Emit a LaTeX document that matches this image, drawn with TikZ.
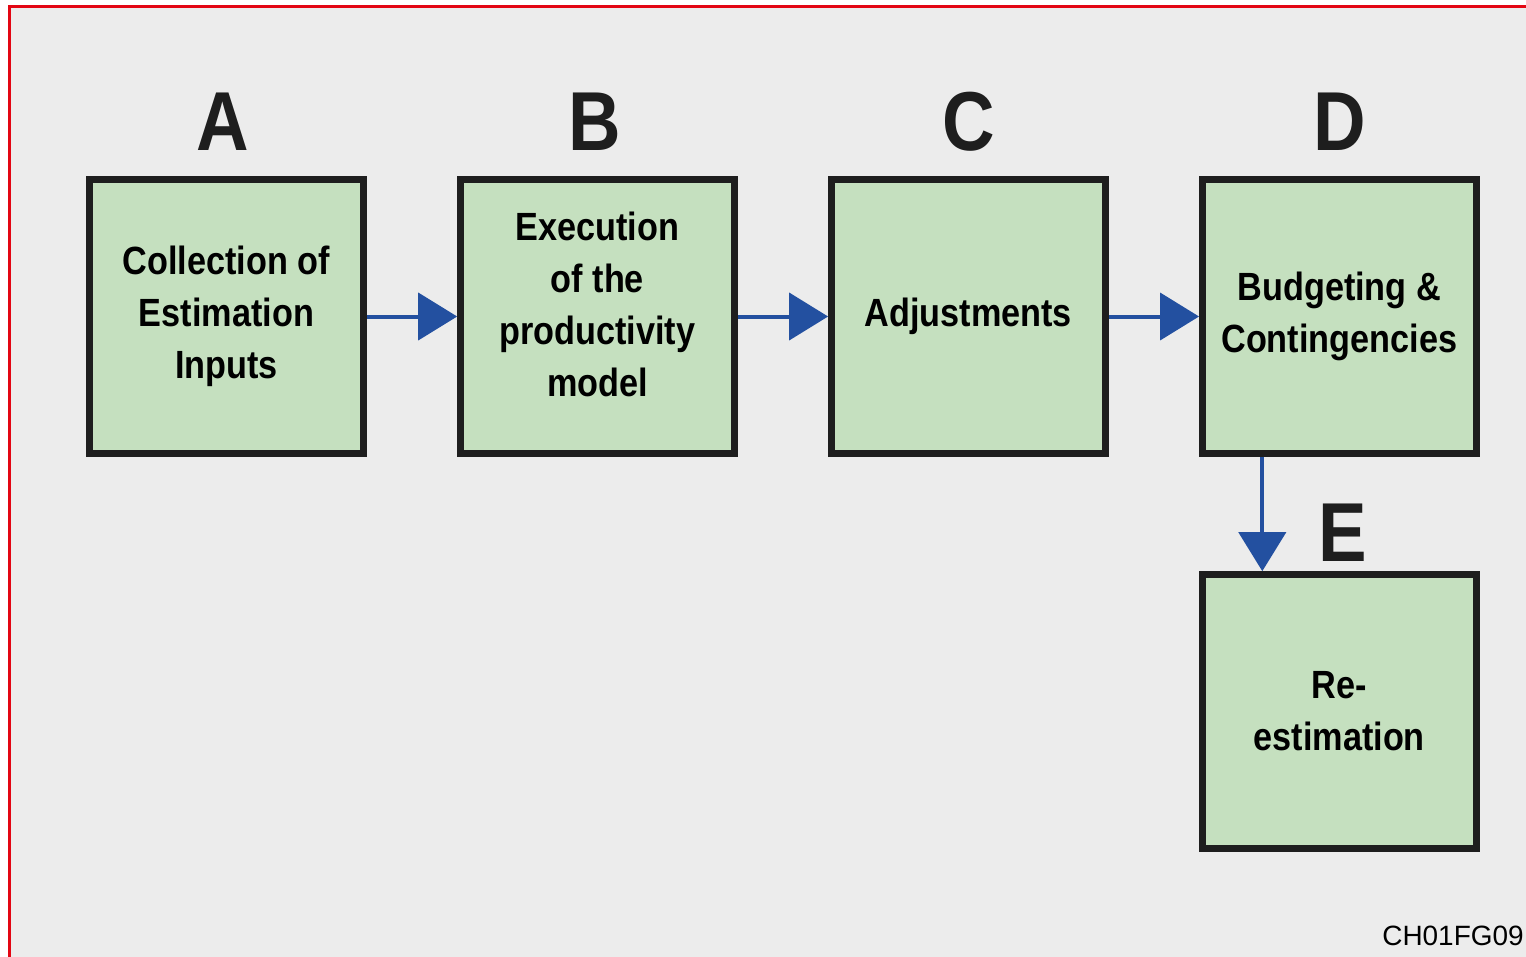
\documentclass[tikz,border=0pt]{standalone}
\usepackage{fontspec}
\setmainfont{Liberation Sans}
\newfontfamily\condfont[FakeStretch=0.87]{Liberation Sans}
\usetikzlibrary{positioning,arrows.meta}
\tikzset{% change default arrow tips
    >={Triangle[length=0.78cm,width=0.94cm]}
}
\definecolor{boxgreen}{HTML}{C5E0BF}
\definecolor{boxline}{HTML}{1E1E1E}
\definecolor{flowblue}{HTML}{2350A0}
\definecolor{bggray}{HTML}{ECECEC}
\definecolor{framered}{HTML}{E30613}

\begin{document}
\begin{tikzpicture}[x=0.02cm, y=-0.02cm,
    stepbox/.style={draw=boxline, fill=boxgreen, line width=0.13cm,
        minimum width=5.48cm, minimum height=5.48cm, inner sep=0pt,
        outer sep=0pt, align=center,
        font=\condfont\bfseries\fontsize{22.4pt}{29.6pt}\selectfont},
    letter/.style={anchor=base, text=boxline,
        font=\condfont\bfseries\fontsize{47.6pt}{50pt}\selectfont},
    flow/.style={->, draw=flowblue, line width=0.08cm,
        shorten <=0.065cm, shorten >=0.065cm},
    node distance=1.94cm
]
    % background and frame
    \useasboundingbox (0,0) rectangle (1526,957);
    \fill[white] (0,0) rectangle (1526,957);
    \fill[bggray] (9.5,6.5) rectangle (1526,957);
    \draw[framered, line width=0.07cm] (9.5,957) -- (9.5,6.5) -- (1526,6.5);

    % steps
    \node[stepbox] (colinp) at (226.5,316.5) {Collection of\\Estimation\\Inputs};
    \node[stepbox, right=of colinp] (exec) {Execution\\of the\\productivity\\model\\[-0.56cm]};
    \node[stepbox, right=of exec] (adj) {Adjustments};
    \node[stepbox, right=of adj] (budg) {Budgeting \&\\Contingencies};
    \node[stepbox, below=2.42cm of budg] (reest) {Re-\\estimation};

    % letters
    \node[letter] (la) at ([xshift=-0.08cm, yshift=0.59cm]colinp.north) {A};
    \node[letter] (lb) at ([xshift=-0.06cm, yshift=0.59cm]exec.north) {B};
    \node[letter] (lc) at ([yshift=0.59cm]adj.north) {C};
    \node[letter] (ld) at ([yshift=0.59cm]budg.north) {D};
    \node[letter] (le) at ([xshift=0.06cm, yshift=0.25cm]reest.north) {E};

    % arrows
    \draw[flow] (colinp) -- (exec);
    \draw[flow] (exec) -- (adj);
    \draw[flow] (adj) -- (budg);
    \draw[flow] ([xshift=1.2cm]budg.south west) -- ([xshift=1.2cm]reest.north west);

    \node[anchor=base east, inner sep=0pt, font=\fontsize{15.9pt}{18pt}\selectfont] (figid) at (1524,945) {CH01FG09};
\end{tikzpicture}
\end{document}
